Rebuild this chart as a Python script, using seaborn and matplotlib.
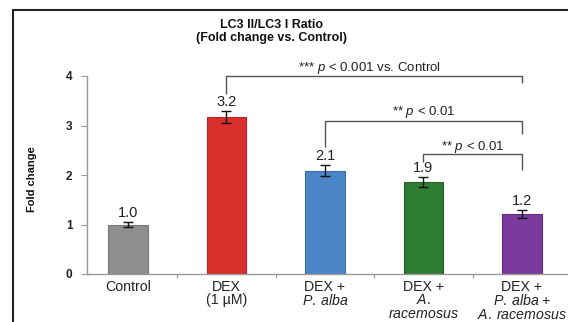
import numpy as np
import pandas as pd
import matplotlib
matplotlib.use("Agg")
import matplotlib.pyplot as plt
import seaborn as sns
from matplotlib.lines import Line2D
from matplotlib.ticker import FixedLocator

# ---------------- data ----------------
groups = ["Control", "DEX (1 µM)", "DEX + P. alba", "DEX + A. racemosus",
          "DEX + P. alba + A. racemosus"]
tick_labels = ["Control",
               "DEX\n(1 µM)",
               "DEX +\n$\\mathit{P.\\:alba}$",
               "DEX +\n$\\mathit{A.}$\n$\\mathit{racemosus}$",
               "DEX +\n$\\mathit{P.\\:alba}$ $\\mathit{+}$\n$\\mathit{A.\\:racemosus}$"]
values = [1.0, 3.18, 2.09, 1.86, 1.21]
errors = [0.05, 0.12, 0.11, 0.10, 0.08]
value_labels = ["1.0", "3.2", "2.1", "1.9", "1.2"]
colors = ["#8e8e8e", "#d9302c", "#4a86c8", "#2f7d32", "#7b3b9e"]
edge_colors = ["#777777", "#b52622", "#3a6fa8", "#245f27", "#5f2c7c"]
y_ticks = [0, 1, 2, 3, 4]

# significance brackets: (x_left, x_right, y_bar, y_left_end, y_right_end, text, text_x, text_y)
brackets = [
    (1, 4, 4.00, 3.63, 3.85, "*** $\\mathit{p}$ < 0.001 vs. Control", 2.45, 4.17),
    (2, 4, 3.09, 2.57, 2.82, "** $\\mathit{p}$ < 0.01", 3.0, 3.27),
    (3, 4, 2.42, 2.26, 2.10, "** $\\mathit{p}$ < 0.01", 3.5, 2.57),
]

df = pd.DataFrame({"group": groups, "value": values})

# ---------------- style ----------------
sns.set_theme(style="white")
plt.rcParams["font.family"] = ["Liberation Sans", "DejaVu Sans"]
plt.rcParams["mathtext.fontset"] = "custom"
plt.rcParams["mathtext.rm"] = "Liberation Sans"
plt.rcParams["mathtext.it"] = "Liberation Sans:italic"
plt.rcParams["mathtext.bf"] = "Liberation Sans:bold"

W, H = 568, 322
fig = plt.figure(figsize=(W / 100, H / 100), dpi=100)
ax = fig.add_axes([87 / W, 48 / H, 481 / W, 198 / H])

sns.barplot(data=df, x="group", y="value", hue="group", order=groups,
            hue_order=groups, palette=colors, width=0.4, errorbar=None,
            legend=False, ax=ax, saturation=1)
for p, ec in zip(ax.patches, edge_colors):
    p.set_edgecolor(ec)
    p.set_linewidth(0.8)

xpos = np.arange(len(groups))
ax.errorbar(xpos, values, yerr=errors, fmt="none", ecolor="#111111",
            elinewidth=1.0, capsize=3.5, capthick=1.0, zorder=5)

for x, v, e, lbl in zip(xpos, values, errors, value_labels):
    ax.annotate(lbl, (x, v + e), xytext=(0, 1.2), textcoords="offset points",
                ha="center", va="bottom", fontsize=10.5, color="#222222")

for x1, x2, yb, yl, yr, txt, tx, ty in brackets:
    ax.plot([x1, x1, x2, x2], [yl, yb, yb, yr], color="#555555", lw=1.0,
            clip_on=False, solid_capstyle="butt")
    ax.text(tx, ty, txt, ha="center", va="center", fontsize=9.5,
            color="#222222", clip_on=False)

ax.set_xlim(-0.416, 4.467)
ax.set_ylim(0, 4)
ax.set_yticks(y_ticks)
ax.set_yticklabels([str(t) for t in y_ticks], fontweight="bold", fontsize=8.5)
ax.set_xticks(xpos)
ax.set_xticklabels(tick_labels, fontsize=10.2, linespacing=0.98)
ax.xaxis.set_minor_locator(FixedLocator([0.5, 1.5, 2.5, 3.5]))
ax.tick_params(axis="x", which="major", length=0, pad=4, colors="#222222")
ax.tick_params(axis="x", which="minor", length=3, width=0.8, color="#999999",
               direction="out", bottom=True)
ax.tick_params(axis="y", which="major", length=4, width=0.8, color="#999999",
               pad=6.5, labelcolor="#222222", left=True)
ax.set_xlabel("")
ax.set_ylabel("Fold change", fontweight="bold", fontsize=8, color="#111111")
ax.yaxis.set_label_coords((37 - 87) / 481, 0.48)

for s in ["top", "right"]:
    ax.spines[s].set_visible(False)
for s in ["left", "bottom"]:
    ax.spines[s].set_color("#999999")
    ax.spines[s].set_linewidth(1.0)
ax.grid(False)

fig.text(272 / W, 1 - 25 / H, "LC3 II/LC3 I Ratio", ha="center", va="center",
         fontsize=9, fontweight="bold", color="#111111")
fig.text(272 / W, 1 - 38 / H, "(Fold change vs. Control)", ha="center",
         va="center", fontsize=9, fontweight="bold", color="#111111")

# outer frame (left and top edges of the original panel)
fig.add_artist(Line2D([13 / W, 13 / W], [0, 1 - 10 / H], transform=fig.transFigure,
                      color="#222222", lw=1.5))
fig.add_artist(Line2D([13 / W, 1], [1 - 10 / H, 1 - 10 / H], transform=fig.transFigure,
                      color="#222222", lw=1.5))

fig.savefig("out.png", dpi=100)
